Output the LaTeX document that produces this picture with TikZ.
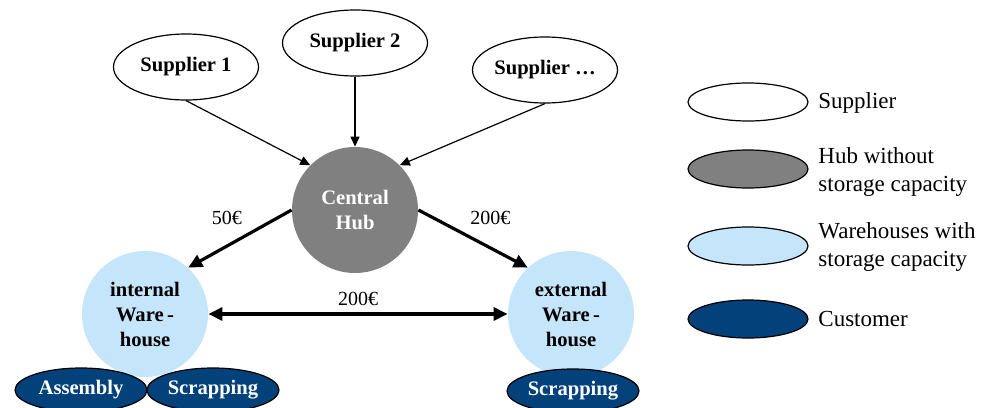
\documentclass[tikz,border=0pt]{standalone}
\usepackage{fontspec}
\setmainfont{Liberation Serif}
\usetikzlibrary{shapes.geometric,arrows.meta}

\definecolor{hubgray}{RGB}{128,128,128}
\definecolor{storeblue}{RGB}{197,229,251}
\definecolor{custblue}{RGB}{2,65,122}

\tikzset{
  supplier/.style={ellipse, draw, line width=0.6pt, fill=white, minimum width=72.5pt,
    minimum height=33pt, inner sep=0pt, font=\bfseries\fontsize{10.3}{12}\selectfont},
  hub/.style={circle, fill=hubgray, text=white, minimum size=63pt, inner sep=0pt,
    align=center, font=\bfseries\fontsize{10.3}{12.5}\selectfont},
  warehouse/.style={circle, fill=storeblue, minimum size=63pt, inner sep=0pt,
    align=center, font=\bfseries\fontsize{10.3}{12.5}\selectfont},
  customer/.style={ellipse, draw, line width=0.6pt, fill=custblue, text=white,
    minimum width=66pt, minimum height=22pt, inner sep=0pt,
    font=\bfseries\fontsize{10.3}{12}\selectfont},
  legend/.style={ellipse, draw, line width=0.6pt, minimum width=60pt,
    minimum height=19pt, inner sep=0pt},
  legendtext/.style={anchor=west, align=left, inner sep=0pt,
    font=\fontsize{11.5}{14}\selectfont},
  flow/.style={-{Triangle[length=5pt,width=4.5pt]}, line width=0.6pt},
  bigflow/.style={-{Triangle[length=7pt,width=6.5pt]}, line width=1.6pt},
  bothflow/.style={{Triangle[length=7pt,width=6.5pt]}-{Triangle[length=7pt,width=6.5pt]}, line width=1.6pt},
  cost/.style={font=\fontsize{10}{12}\selectfont}
}

\begin{document}
\begin{tikzpicture}[x=0.5pt, y=-0.5pt]
    \useasboundingbox (0,0) rectangle (988,407);

    % Suppliers
    \node[supplier] (s1) at (186,67) {Supplier 1};
    \node[supplier] (s2) at (355,43) {Supplier 2};
    \node[supplier] (s3) at (545,70) {Supplier …};

    % Hub and warehouses
    \node[hub] (hub) at (355,210) {Central\\Hub};
    \node[warehouse] (wint) at (145,314) {internal\\Ware\,-\\house};
    \node[warehouse] (wext) at (571,314) {external\\Ware\,-\\house};

    % Customers
    \node[customer] (asm) at (81,390) {Assembly};
    \node[customer] (scr1) at (213,390) {Scrapping};
    \node[customer] (scr2) at (573,391) {Scrapping};

    % Deliveries to the hub
    \draw[flow] (s1.south) -- (hub.135);
    \draw[flow] (s2.south) -- (hub.north);
    \draw[flow] (s3.south) -- (hub.45);

    % Transport costs
    \draw[bigflow] (hub.west) -- (wint.47) node[cost, pos=0.4, above left] {50€};
    \draw[bigflow] (hub.east) -- (wext.133) node[cost, pos=0.4, above right] {200€};
    \draw[bothflow] (wint.east) -- (wext.west) node[cost, midway, above] {200€};

    % Legend
    \node[legend, fill=white] (l1) at (748,102) {};
    \node[legend, fill=hubgray] (l2) at (748,169) {};
    \node[legend, fill=storeblue] (l3) at (748,246) {};
    \node[legend, fill=custblue] (l4) at (748,319) {};
    \node[legendtext] (t1) at (818,103) {Supplier};
    \node[legendtext] (t2) at (818,172) {Hub without\\storage capacity};
    \node[legendtext] (t3) at (818,247) {Warehouses with\\storage capacity};
    \node[legendtext] (t4) at (818,319) {Customer};
\end{tikzpicture}
\end{document}
